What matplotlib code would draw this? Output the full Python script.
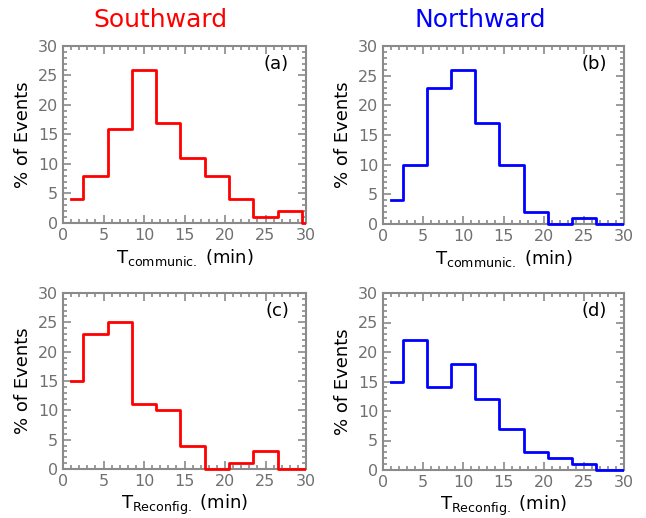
import matplotlib
matplotlib.use('Agg')
import matplotlib.pyplot as plt
from matplotlib.ticker import MultipleLocator
from matplotlib.patches import Rectangle

# bin centres (min) and percentage of events per bin
t_bins = [1, 4, 7, 10, 13, 16, 19, 22, 25, 28, 31]
south_comm = [4, 8, 16, 26, 17, 11, 8, 4, 1, 2, 0]
north_comm = [4, 10, 23, 26, 17, 10, 2, 0, 1, 0, 0]
south_reconf = [15, 23, 25, 11, 10, 4, 0, 1, 3, 0, 0]
north_reconf = [15, 22, 14, 18, 12, 7, 3, 2, 1, 0, 0]

panels = [
    (south_comm, "red", "(a)", r"T$_{\mathrm{communic.}}$ (min)"),
    (north_comm, "blue", "(b)", r"T$_{\mathrm{communic.}}$ (min)"),
    (south_reconf, "red", "(c)", r"T$_{\mathrm{Reconfig.}}$ (min)"),
    (north_reconf, "blue", "(d)", r"T$_{\mathrm{Reconfig.}}$ (min)"),
]

W, H = 646, 518
fig = plt.figure(figsize=(W / 100, H / 100), dpi=100)
boxes = [(63, 46, 306, 223), (383, 46, 624, 224), (63, 293, 306, 469), (383, 293, 624, 470)]

frame_col = "#8a8a8a"
for (vals, col, tag, xlab), (x0, y0, x1, y1) in zip(panels, boxes):
    ax = fig.add_axes([x0 / W, 1 - y1 / H, (x1 - x0) / W, (y1 - y0) / H])
    line, = ax.step(t_bins, vals, where="mid", color=col, linewidth=2, zorder=3)
    # let the zero-level segments show over the bottom frame
    line.set_clip_path(Rectangle((0, -0.05), 1, 1.1, transform=ax.transAxes))
    ax.set_xlim(0, 30)
    ax.set_ylim(0, 30)
    ax.xaxis.set_major_locator(MultipleLocator(5))
    ax.yaxis.set_major_locator(MultipleLocator(5))
    ax.xaxis.set_minor_locator(MultipleLocator(1))
    ax.yaxis.set_minor_locator(MultipleLocator(1))
    ax.tick_params(which="both", direction="in", top=True, right=True, color=frame_col,
                   labelcolor="#707070", labelsize=11.5, width=1.2)
    ax.tick_params(which="major", length=6)
    ax.tick_params(which="minor", length=3)
    for s in ax.spines.values():
        s.set_color(frame_col)
        s.set_linewidth(1.5)
    ax.set_ylabel("% of Events", fontsize=13)
    ax.set_xlabel(xlab, fontsize=13, labelpad=3)
    ax.text(0.93, 0.9, tag, transform=ax.transAxes, fontsize=13, ha="right", va="center")

fig.text(160 / W, 1 - 20 / H, "Southward", color="red", fontsize=18, ha="center", va="center")
fig.text(480 / W, 1 - 20 / H, "Northward", color="blue", fontsize=18, ha="center", va="center")

fig.savefig("out.png", dpi=100)
plt.close(fig)
